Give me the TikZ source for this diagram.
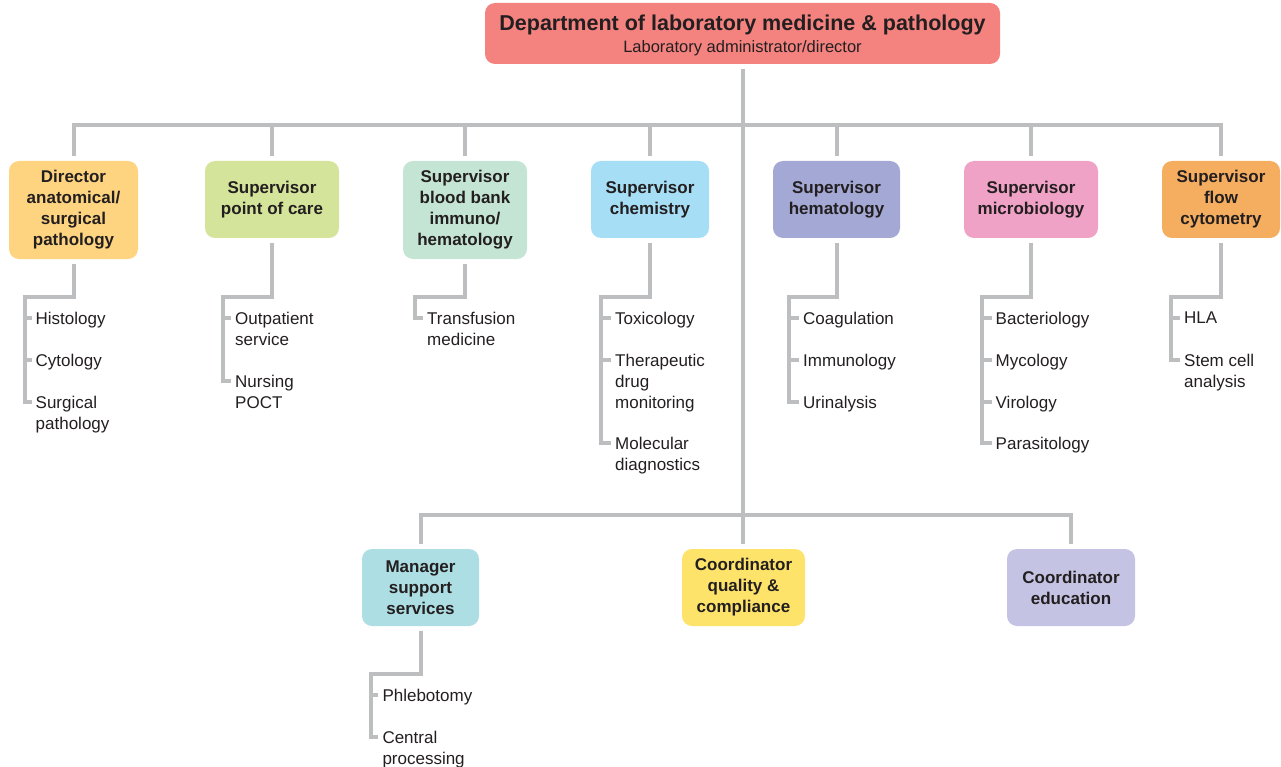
\documentclass[tikz,border=0pt]{standalone}
\usepackage{fontspec}
\setmainfont{Liberation Sans}
\definecolor{lnc}{HTML}{BDBEC0}
\definecolor{txt}{HTML}{231F20}
\definecolor{cTop}{HTML}{F4827F}
\definecolor{cDir}{HTML}{FED480}
\definecolor{cPoc}{HTML}{D5E49B}
\definecolor{cBb}{HTML}{C5E5D4}
\definecolor{cChem}{HTML}{A6DEF6}
\definecolor{cHem}{HTML}{A4A8D5}
\definecolor{cMic}{HTML}{F0A2C6}
\definecolor{cFlow}{HTML}{F5AD60}
\definecolor{cMgr}{HTML}{ADDEE3}
\definecolor{cQual}{HTML}{FEE36B}
\definecolor{cEdu}{HTML}{C5C3E3}
\newcommand\brline[3]{\draw[conn] ([yshift=-5pt]#1.south) |- (#2) |- ([shift={(-4pt,-6.1pt)}]#3.north west);}
\newcommand\tk[2]{\draw[conn] ([shift={(-4pt,-6.1pt)}]#1.north west) -- ++(-#2,0);}
\begin{document}
\begin{tikzpicture}[x=1pt,y=-1pt,
  box/.style={draw=none, rounded corners=10pt, inner sep=0pt, align=center, text=txt,
    font=\bfseries\fontsize{17}{21}\selectfont},
  short/.style={minimum height=77pt},
  tall/.style={minimum height=98pt},
  item/.style={anchor=north west, inner sep=0pt, align=left, text=txt,
    font=\fontsize{17}{21}\selectfont},
  conn/.style={draw=lnc, line width=4pt, line join=miter}]
\useasboundingbox (0,0) rectangle (1281,767);

% top box
\node[box, fill=cTop, minimum width=515pt, minimum height=61pt] (top) at (742.5,33.5)
  {{\fontsize{21.5}{21}\selectfont\rule{0pt}{19pt}Department of laboratory medicine \& pathology}\\[1pt]
   {\mdseries\fontsize{16.5}{21}\selectfont Laboratory administrator/director}};

% first row
\node[box, tall,  fill=cDir,  minimum width=129pt] (d1) at (73.5,210) {Director\\anatomical/\\surgical\\pathology};
\node[box, short, fill=cPoc,  minimum width=134pt] (d2) at (272,199.5) {Supervisor\\point of care};
\node[box, tall,  fill=cBb,   minimum width=124pt] (d3) at (465,210) {Supervisor\\blood bank\\immuno/\\hematology};
\node[box, short, fill=cChem, minimum width=118pt] (d4) at (650,199.5) {Supervisor\\chemistry};
\node[box, short, fill=cHem,  minimum width=127pt] (d5) at (836.5,199.5) {Supervisor\\hematology};
\node[box, short, fill=cMic,  minimum width=134pt] (d6) at (1031,199.5) {Supervisor\\microbiology};
\node[box, short, fill=cFlow, minimum width=118pt] (d7) at (1221,199.5) {Supervisor\\flow\\cytometry};

% second row
\node[box, short, fill=cMgr,  minimum width=117pt] (m1) at (420.5,587.5) {Manager\\support\\services};
\node[box, short, fill=cQual, minimum width=123pt] (m2) at (743.5,587.5) {Coordinator\\quality \&\\compliance};
\node[box, short, fill=cEdu,  minimum width=128pt] (m3) at (1071,587.5) {Coordinator\\education};

% items
\node[item] (i11) at (35.5,311.9) {Histology};
\node[item] (i12) at (35.5,353.9) {Cytology};
\node[item] (i13) at (35.5,395.9) {Surgical\\pathology};

\node[item] (i21) at (235,311.9) {Outpatient\\service};
\node[item] (i22) at (235,374.9) {Nursing\\POCT};

\node[item] (i31) at (427,311.9) {Transfusion\\medicine};

\node[item] (i41) at (615,311.9) {Toxicology};
\node[item] (i42) at (615,353.9) {Therapeutic\\drug\\monitoring};
\node[item] (i43) at (615,436.9) {Molecular\\diagnostics};

\node[item] (i51) at (803,311.9) {Coagulation};
\node[item] (i52) at (803,353.9) {Immunology};
\node[item] (i53) at (803,395.9) {Urinalysis};

\node[item] (i61) at (995.5,311.9) {Bacteriology};
\node[item] (i62) at (995.5,353.9) {Mycology};
\node[item] (i63) at (995.5,395.9) {Virology};
\node[item] (i64) at (995.5,436.9) {Parasitology};

\node[item] (i71) at (1184,311.9) {HLA};
\node[item] (i72) at (1184,353.9) {Stem cell\\analysis};

\node[item] (i81) at (382.3,689.1) {Phlebotomy};
\node[item] (i82) at (382.3,731.1) {Central\\processing};

% main connectors
\coordinate (bus) at (742.5,125);
\coordinate (bus2) at (742.5,515);
\draw[conn] ([yshift=5pt]d1.north) |- (bus) -| ([yshift=5pt]d7.north);
\foreach \n in {d2,d3,d4,d5,d6} \draw[conn] (\n.north |- bus) -- ([yshift=5pt]\n.north);
\draw[conn] ([yshift=-5pt]top.south) -- ([yshift=5pt]top.south |- m2.north);
\draw[conn] ([yshift=5pt]m1.north) |- (bus2) -| ([yshift=5pt]m3.north);

% branch corners
\coordinate (c1) at (24.5,297);
\coordinate (c2) at (223,297);
\coordinate (c3) at (415,297);
\coordinate (c4) at (601,297);
\coordinate (c5) at (789,297);
\coordinate (c6) at (982,297);
\coordinate (c7) at (1171,297);
\coordinate (c8) at (370.5,674);

\brline{d1}{c1}{i13} \tk{i11}{7} \tk{i12}{7}
\brline{d2}{c2}{i22} \tk{i21}{8}
\brline{d3}{c3}{i31}
\brline{d4}{c4}{i43} \tk{i41}{10} \tk{i42}{10}
\brline{d5}{c5}{i53} \tk{i51}{10} \tk{i52}{10}
\brline{d6}{c6}{i64} \tk{i61}{9.5} \tk{i62}{9.5} \tk{i63}{9.5}
\brline{d7}{c7}{i72} \tk{i71}{9}
\brline{m1}{c8}{i82} \tk{i81}{7.8}
\end{tikzpicture}
\end{document}
